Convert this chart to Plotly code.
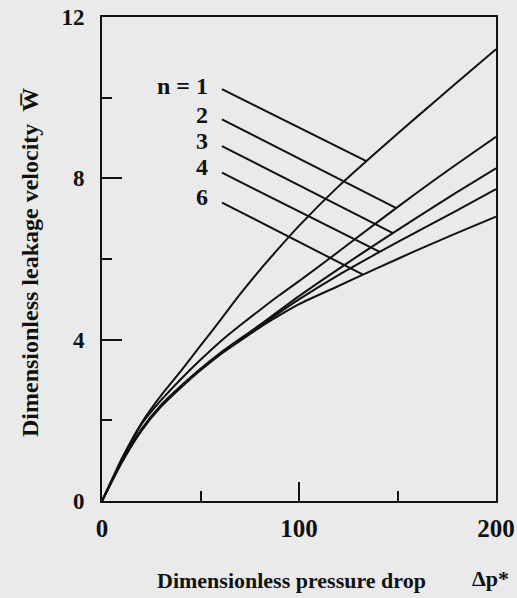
import numpy as np
import plotly.graph_objects as go

# ---- data ----
pressure_drop = [0, 10, 20, 30, 40, 50, 60, 70, 80, 90, 100, 120, 140, 160, 180, 200]
w_n1 = [0, 1.05, 1.93, 2.62, 3.22, 3.85, 4.48, 5.12, 5.72, 6.28, 6.82, 7.80, 8.68, 9.53, 10.37, 11.20]
w_n2 = [0, 1.00, 1.90, 2.50, 3.02, 3.50, 3.95, 4.35, 4.73, 5.10, 5.45, 6.18, 6.92, 7.65, 8.35, 9.03]
w_n3 = [0, 0.97, 1.78, 2.38, 2.85, 3.28, 3.67, 4.02, 4.36, 4.72, 5.08, 5.75, 6.40, 7.03, 7.65, 8.25]
w_n4 = [0, 0.96, 1.76, 2.36, 2.83, 3.26, 3.65, 4.00, 4.33, 4.67, 5.00, 5.60, 6.15, 6.68, 7.20, 7.73]
w_n6 = [0, 0.95, 1.74, 2.34, 2.81, 3.24, 3.63, 3.97, 4.30, 4.60, 4.88, 5.33, 5.78, 6.22, 6.64, 7.05]

series = [w_n1, w_n2, w_n3, w_n4, w_n6]
curve_labels = ["n = 1", "2", "3", "4", "6"]

# leader lines: start point near the labels, end point on each curve
label_x = 55
label_y = [10.29, 9.58, 8.92, 8.27, 7.53]
leader_start_x = 60.9
leader_start_y = [10.21, 9.46, 8.80, 8.14, 7.40]
leader_end_x = [134.2, 149.4, 147.7, 141.0, 132.5]

x_ticks = [0, 100, 200]
y_ticks = [0, 4, 8, 12]

INK = "#111111"
BG = "#eaeaea"
FONT = "Liberation Serif"

fig = go.Figure()

for w in series:
    fig.add_trace(go.Scatter(x=pressure_drop, y=w, mode="lines",
                             line=dict(color=INK, width=2, shape="spline", smoothing=0.6),
                             showlegend=False, hoverinfo="skip"))

for w, sy, ex in zip(series, leader_start_y, leader_end_x):
    ey = float(np.interp(ex, pressure_drop, w))
    fig.add_trace(go.Scatter(x=[leader_start_x, ex], y=[sy, ey], mode="lines",
                             line=dict(color=INK, width=2),
                             showlegend=False, hoverinfo="skip"))

for txt, ly in zip(curve_labels, label_y):
    fig.add_annotation(x=label_x, y=ly, xref="x", yref="y", text="<b>%s</b>" % txt,
                       showarrow=False, xanchor="right", yanchor="middle",
                       font=dict(family=FONT, size=24, color=INK))

W, H = 517, 598
L, T, R, B = 102, 17, 21, 97
pw, ph = W - L - R, H - T - B


def px(xp):
    return (xp - L) / pw


def py(yp):
    return (H - B - yp) / ph


fig.add_annotation(x=px(155), y=py(580), xref="paper", yref="paper",
                   text="<b>Dimensionless pressure drop</b>",
                   showarrow=False, xanchor="left", yanchor="middle",
                   font=dict(family=FONT, size=22, color=INK))
fig.add_annotation(x=px(470), y=py(578), xref="paper", yref="paper", text="<b>\u0394p*</b>",
                   showarrow=False, xanchor="left", yanchor="middle",
                   font=dict(family=FONT, size=22, color=INK))
fig.add_annotation(x=px(30), y=py(263), xref="paper", yref="paper",
                   text="<b>Dimensionless leakage velocity \u00a0W\u0305</b>",
                   textangle=-90, showarrow=False, xanchor="center", yanchor="middle",
                   font=dict(family=FONT, size=24, color=INK))

fig.update_layout(
    template="none",
    width=W, height=H,
    margin=dict(l=L, r=R, t=T, b=B, pad=0, autoexpand=False),
    paper_bgcolor=BG, plot_bgcolor=BG,
    showlegend=False,
    xaxis=dict(range=[0, 200], tickmode="array", tickvals=x_ticks, ticktext=[str(v) for v in x_ticks],
               ticks="inside", ticklen=19, tickwidth=2, tickcolor=INK,
               minor=dict(ticks="inside", ticklen=10, tickwidth=2, tickcolor=INK, dtick=50, tick0=0),
               showline=True, linewidth=2, linecolor=INK, mirror=True, automargin=False,
               showgrid=False, zeroline=False, ticklabelstandoff=4,
               tickfont=dict(family=FONT, size=25, color=INK, weight="bold")),
    yaxis=dict(range=[0, 12], tickmode="array", tickvals=y_ticks, ticktext=[str(v) for v in y_ticks],
               ticks="inside", ticklen=20, tickwidth=2, tickcolor=INK,
               minor=dict(ticks="inside", ticklen=10, tickwidth=2, tickcolor=INK, dtick=2, tick0=0),
               showline=True, linewidth=2, linecolor=INK, mirror=True, automargin=False,
               showgrid=False, zeroline=False, ticklabelstandoff=11,
               tickfont=dict(family=FONT, size=23, color=INK, weight="bold")),
)

fig.write_html("out.html", config={"displayModeBar": False},
               post_script="document.body.style.margin='0';document.body.style.overflow='hidden';")
